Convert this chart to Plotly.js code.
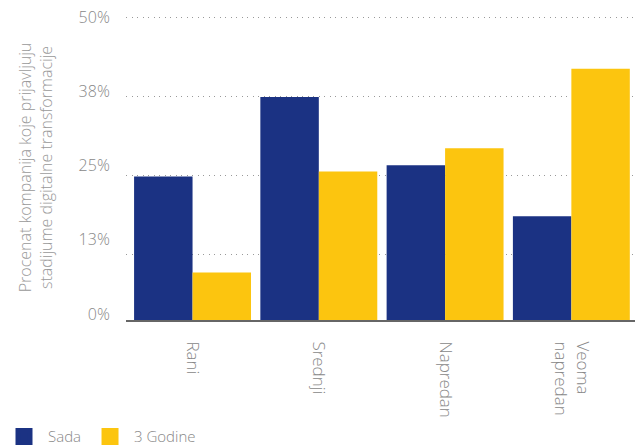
<!DOCTYPE html>
<html>
<head>
<meta charset="utf-8">
<script src="https://cdn.plot.ly/plotly-3.0.1.min.js"></script>
<style>html,body{margin:0;padding:0;background:#fff;}#chart{width:635px;height:448px;}</style>
</head>
<body>
<div id="chart"></div>
<script>
var categories = ['Rani', 'Srednji', 'Napredan', 'Veoma<br>napredan'];
var seriesNames = ['Sada', '3 Godine'];
var sada = [24.8, 37.4, 26.6, 18.5];
var godine3 = [9.6, 25.6, 29.3, 41.9];
var gridVals = [12.5, 25, 37.5, 50];
var tickVals = [0, 12.5, 25, 37.5, 50];
var tickText = ['0%', '13%', '25%', '38%', '50%'];
var yTitle = 'Procenat kompanija koje prijavljuju<br>stadijume digitalne transformacije';
var colors = ['#1b3283', '#fcc50f'];

var font = "'Open Sans', 'Noto Sans', sans-serif";

var traces = [
  {type: 'bar', name: seriesNames[0], x: categories, y: sada, showlegend: false,
   marker: {color: colors[0]}, hoverinfo: 'none'},
  {type: 'bar', name: seriesNames[1], x: categories, y: godine3, showlegend: false,
   marker: {color: colors[1]}, hoverinfo: 'none'},
  {type: 'scatter', x: [categories[0]], y: [null], yaxis: 'y2', showlegend: false, hoverinfo: 'none'},
  // legend-only entries (larger swatches)
  {type: 'bar', name: seriesNames[0], x: [categories[0]], y: [null], xaxis: 'x2', yaxis: 'y3',
   marker: {color: colors[0], line: {color: colors[0], width: 5}}, hoverinfo: 'none'},
  {type: 'bar', name: seriesNames[1], x: [categories[0]], y: [null], xaxis: 'x2', yaxis: 'y3',
   marker: {color: colors[1], line: {color: colors[1], width: 5}}, hoverinfo: 'none'}
];

var layout = {
  width: 635, height: 448,
  margin: {l: 126, r: 0, t: 14.5, b: 128},
  paper_bgcolor: '#fff', plot_bgcolor: '#fff',
  barmode: 'group', bargap: 0.074, bargroupgap: 0,
  font: {family: font, color: '#888', size: 15, weight: 300},
  xaxis: {
    type: 'category', range: [-0.527, 3.504],
    showline: true, linecolor: '#666', linewidth: 2,
    tickangle: 90, ticks: 'outside', ticklen: 16, tickcolor: 'rgba(0,0,0,0)', showgrid: false,
    tickfont: {size: 17, color: '#888', weight: 300}, automargin: false
  },
  xaxis2: {overlaying: 'x', visible: false, showgrid: false},
  yaxis3: {overlaying: 'y', visible: false, showgrid: false, anchor: 'x2'},
  yaxis: {
    range: [2.06, 50.4], tickvals: gridVals, showticklabels: false,
    showgrid: true, gridcolor: '#999', griddash: '1px,4.5px', gridwidth: 1,
    zeroline: false, showline: false, ticks: '', fixedrange: true
  },
  yaxis2: {
    overlaying: 'y', side: 'left', anchor: 'x',
    range: [-1.01, 50.42], tickvals: tickVals, ticktext: tickText,
    showgrid: false, zeroline: false, showline: false,
    ticks: 'outside', ticklen: 12, tickcolor: 'rgba(0,0,0,0)',
    tickfont: {size: 16, color: '#888', weight: 300},
    title: {text: yTitle, font: {size: 16, color: '#999', weight: 300}, standoff: 22},
    automargin: false
  },
  legend: {
    orientation: 'h', xref: 'container', x: -0.006, xanchor: 'left',
    yref: 'container', y: 0.025, yanchor: 'middle',
    font: {size: 15, color: '#888', weight: 300}, itemwidth: 38, traceorder: 'normal'
  },
  showlegend: true
};

Plotly.newPlot('chart', traces, layout, {displayModeBar: false, staticPlot: true});
</script>
</body>
</html>
